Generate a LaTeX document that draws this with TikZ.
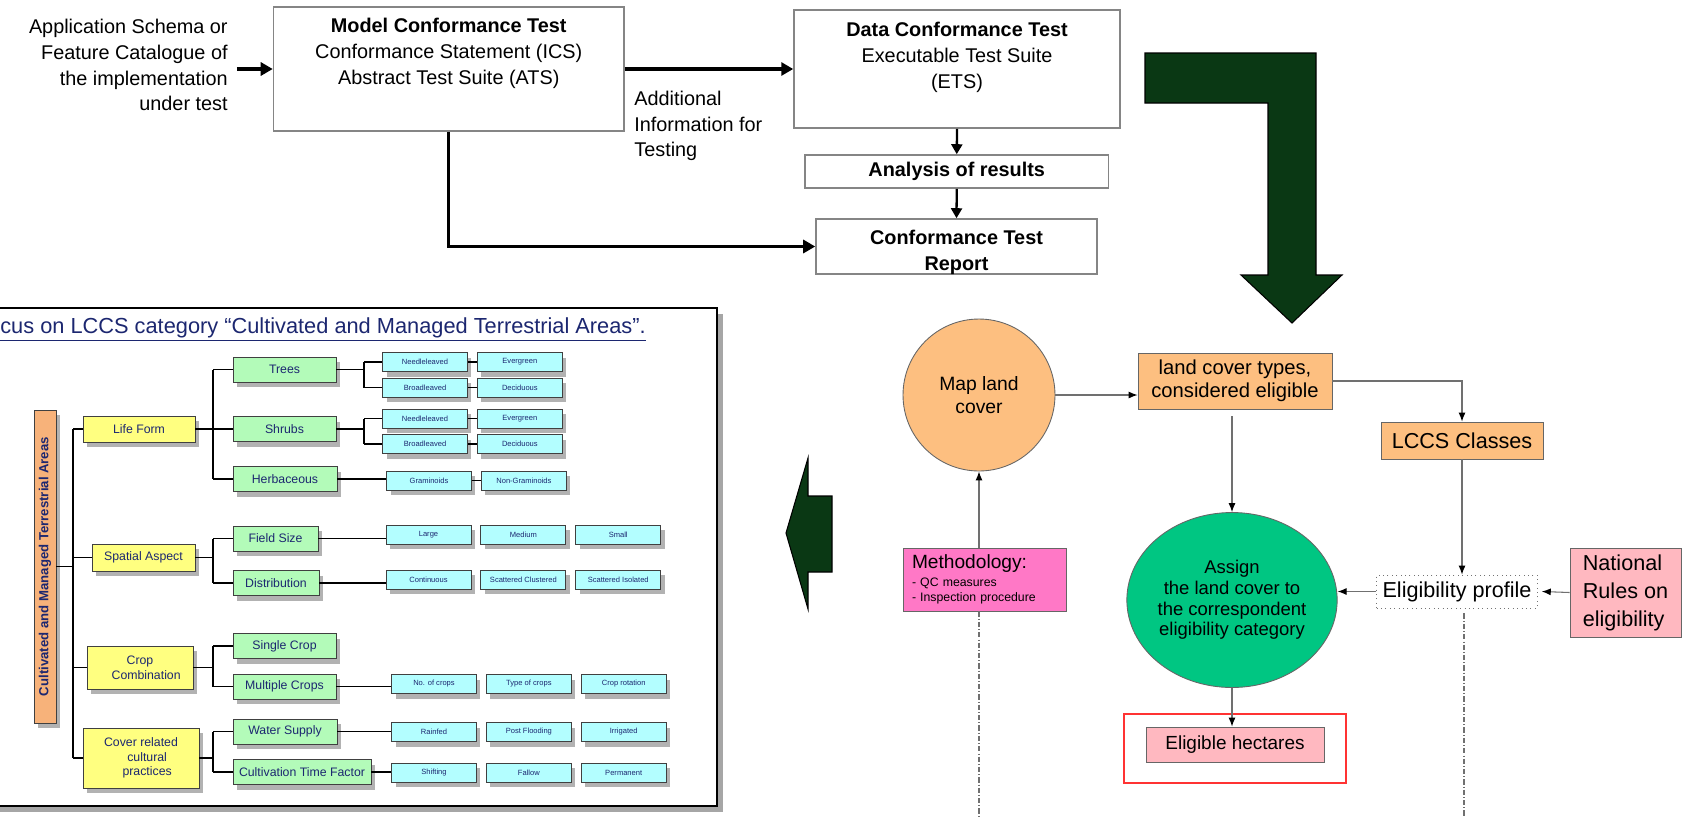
\documentclass[tikz,border=0pt]{standalone}
\usepackage{fontspec}
\setmainfont{Liberation Sans}
\usetikzlibrary{arrows.meta, positioning, shapes.geometric, shadows}
\definecolor{testframe}{HTML}{858585}
\definecolor{arrowgreen}{HTML}{0A3814}
\definecolor{lccsnavy}{HTML}{1C2770}
\definecolor{formyellow}{HTML}{FFFF80}
\definecolor{classgreen}{HTML}{B3FBB9}
\definecolor{detailcyan}{HTML}{B3FEFF}
\definecolor{categorybar}{HTML}{F7B27A}
\definecolor{mapfill}{HTML}{FDBF80}
\definecolor{assignfill}{HTML}{00C682}
\definecolor{methodfill}{HTML}{FF78C6}
\definecolor{rulefill}{HTML}{FFB8C0}
\definecolor{framered}{HTML}{FF3333}
\definecolor{linkgrey}{HTML}{707070}

\begin{document}
\begin{tikzpicture}[
    x=0.02cm, y=-0.02cm,
    node distance=0.18cm,
    testbox/.style={
        draw=testframe,
        line width=0.9pt,
        fill=white
    },
    testtext/.style={
        inner sep=0pt,
        align=center,
        font=\fontsize{11.3}{14.7}\selectfont
    },
    boldlink/.style={
        -{Triangle[length=2.4mm, width=2.6mm]},
        line width=1.8pt
    },
    resultlink/.style={
        -{Triangle[length=2mm, width=2.2mm]},
        line width=1.3pt
    },
    bendarrow/.style={
        fill=arrowgreen,
        draw=black,
        line width=0.6pt
    },
    lccsbox/.style={
        draw=black!75,
        line width=0.5pt,
        text=lccsnavy,
        inner sep=1pt,
        drop shadow={shadow xshift=0.08cm, shadow yshift=-0.1cm, fill=black!30, opacity=1}
    },
    formbox/.style={
        lccsbox,
        fill=formyellow,
        align=center,
        font=\fontsize{7}{8.4}\selectfont
    },
    classbox/.style={
        lccsbox,
        fill=classgreen,
        minimum height=0.5cm,
        font=\fontsize{7}{8.4}\selectfont
    },
    detailbox/.style={
        lccsbox,
        fill=detailcyan,
        minimum width=1.7cm,
        minimum height=0.38cm,
        font=\fontsize{4.3}{5}\selectfont
    },
    treeline/.style={
        line width=0.8pt
    },
    flowbox/.style={
        draw=black!60,
        line width=0.5pt,
        align=center
    },
    flowlink/.style={
        -{Latex[length=1.8mm, width=1.4mm, color=black]},
        draw=linkgrey,
        line width=0.6pt
    },
    tracelink/.style={
        draw=linkgrey,
        line width=0.6pt,
        dash pattern=on 3pt off 1.2pt on 0.5pt off 1.2pt
    }
]
    \useasboundingbox (0,0) rectangle (1684,816);

    % conformance testing
    \node[testtext, align=right, anchor=east] (implementation) at (228,65)
        {Application Schema or\\Feature Catalogue of\\the implementation\\under test};
    \node[testbox, minimum width=7.01cm, minimum height=2.48cm] (model) at (448.75,69) {};
    \node[testtext, below=0.23cm of model.north] (modelText)
        {\textbf{Model Conformance Test}\\Conformance Statement (ICS)\\Abstract Test Suite (ATS)};
    \node[testbox, minimum width=6.52cm, minimum height=2.36cm] (data) at (957,69) {};
    \node[testtext, below=0.25cm of data.north] (dataText)
        {\textbf{Data Conformance Test}\\Executable Test Suite\\(ETS)};
    \node[testtext, align=left, anchor=west] (additional) at (634,126)
        {Additional\\Information for\\Testing};
    \node[testbox, testtext, minimum width=6.07cm, minimum height=0.66cm] (analysis) at (956.75,171.5)
        {\textbf{Analysis of results}};
    \node[testbox, minimum width=5.62cm, minimum height=1.1cm] (report) at (956.5,246.5) {};
    \node[testtext, below=0.24cm of report.north] (reportText)
        {\textbf{Conformance Test}\\\textbf{Report}};

    \draw[boldlink] ([xshift=-0.72cm]model.west) -- (model.west);
    \draw[boldlink] (model.east) -- (data.west);
    \draw[boldlink] (model.south) |- (report.west);
    \draw[resultlink] (data.south) -- (analysis.north);
    \draw[resultlink] (analysis.south) -- (report.north);

    \draw[bendarrow] (1145,53) -- (1316,53) -- (1316,275) -- (1342,275) -- (1292,323)
        -- (1241,275) -- (1268,275) -- (1268,103) -- (1145,103) -- cycle;

    % LCCS panel
    \draw[line width=1.4pt, fill=white,
        drop shadow={shadow xshift=0.12cm, shadow yshift=-0.12cm, fill=black!35, opacity=1}]
        (-10,308) rectangle (717,806);
    \node[anchor=base west, inner sep=0pt, text=lccsnavy, font=\fontsize{12.4}{14}\selectfont] (focusTitle) at (0,333)
        {\underline{cus on LCCS category “Cultivated and Managed Terrestrial Areas”.}};

    \node[lccsbox, fill=categorybar, rotate=90, minimum width=6.26cm, minimum height=0.44cm,
        font=\fontsize{7.5}{9}\selectfont\bfseries] (category) at (45,566.5)
        {Cultivated and Managed Terrestrial Areas};

    \node[formbox, minimum width=2.24cm, minimum height=0.52cm] (lifeForm) at (139,429) {Life Form};
    \node[formbox, minimum width=2.06cm, minimum height=0.54cm] (spatial) at (143.5,557.5) {Spatial Aspect};
    \node[formbox, minimum width=2.12cm, minimum height=0.86cm] (cropMix) at (140,667.5) {Crop\\\quad Combination};
    \node[formbox, minimum width=2.32cm, minimum height=1.2cm] (cover) at (141,758) {Cover related\\\quad cultural\\\quad practices};

    \node[classbox, minimum width=2.06cm] (trees) at (284.5,369.5) {Trees};
    \node[classbox, minimum width=2.06cm] (shrubs) at (284.5,429) {Shrubs};
    \node[classbox, minimum width=2.08cm] (herbs) at (285,479) {Herbaceous};
    \node[classbox, minimum width=1.7cm] (fieldSize) at (275.5,538.5) {Field Size};
    \node[classbox, minimum width=1.72cm] (distribution) at (276,583) {Distribution};
    \node[classbox, minimum width=2.06cm] (singleCrop) at (284.5,646) {Single Crop};
    \node[classbox, minimum width=2.06cm] (multiCrops) at (284.5,686.5) {Multiple Crops};
    \node[classbox, minimum width=2.08cm] (water) at (285,731.5) {Water Supply};
    \node[classbox, minimum width=2.76cm] (timeFactor) at (302,772) {Cultivation Time Factor};

    \node[detailbox] (needleA) at (425,362) {Needleleaved};
    \node[detailbox] (broadA) at (425,387.5) {Broadleaved};
    \node[detailbox, right=of needleA] (everA) {Evergreen};
    \node[detailbox, right=of broadA] (decidA) {Deciduous};
    \node[detailbox] (needleB) at (425,418.5) {Needleleaved};
    \node[detailbox] (broadB) at (425,444) {Broadleaved};
    \node[detailbox, right=of needleB] (everB) {Evergreen};
    \node[detailbox, right=of broadB] (decidB) {Deciduous};
    \node[detailbox] (gramin) at (429,480.5) {Graminoids};
    \node[detailbox, right=of gramin] (nonGramin) {Non-Graminoids};
    \node[detailbox] (large) at (428.5,534.5) {Large};
    \node[detailbox, right=of large] (medium) {Medium};
    \node[detailbox, right=of medium] (small) {Small};
    \node[detailbox] (continuous) at (428.5,579.5) {Continuous};
    \node[detailbox, right=of continuous] (scatClust) {Scattered Clustered};
    \node[detailbox, right=of scatClust] (scatIso) {Scattered Isolated};
    \node[detailbox] (noCrops) at (434,684) {No. of crops};
    \node[detailbox, right=of noCrops] (typeCrops) {Type of crops};
    \node[detailbox, right=of typeCrops] (rotation) {Crop rotation};
    \node[detailbox] (rainfed) at (434,732) {Rainfed};
    \node[detailbox, right=of rainfed] (postFlood) {Post Flooding};
    \node[detailbox, right=of postFlood] (irrigated) {Irrigated};
    \node[detailbox] (shifting) at (434,772.5) {Shifting};
    \node[detailbox, right=of shifting] (fallow) {Fallow};
    \node[detailbox, right=of fallow] (permanent) {Permanent};

    \coordinate (trunk) at (73,0);
    \coordinate (forkTwo) at (213,0);
    \coordinate (forkThree) at (364,0);

    \draw[treeline] (category.south) -- (category.south -| trunk);
    \draw[treeline] (trunk |- lifeForm.west) -- (trunk |- cover.west);
    \foreach \f in {lifeForm, spatial, cropMix, cover}
        \draw[treeline] (trunk |- \f.west) -- (\f.west);
    \foreach \parent/\first/\last in {lifeForm/trees/herbs, spatial/fieldSize/distribution,
        cropMix/singleCrop/multiCrops, cover/water/timeFactor} {
        \draw[treeline] (\parent.east) -- (\parent.east -| forkTwo);
        \draw[treeline] (forkTwo |- \first.west) -- (forkTwo |- \last.west);
    }
    \foreach \child in {trees, shrubs, herbs, fieldSize, distribution, singleCrop, multiCrops, water, timeFactor}
        \draw[treeline] (forkTwo |- \child.west) -- (\child.west);
    \foreach \parent/\upper/\lower in {trees/needleA/broadA, shrubs/needleB/broadB} {
        \draw[treeline] (\parent.east) -- (\parent.east -| forkThree);
        \draw[treeline] (forkThree |- \upper.west) -- (forkThree |- \lower.west);
        \draw[treeline] (forkThree |- \upper.west) -- (\upper.west);
        \draw[treeline] (forkThree |- \lower.west) -- (\lower.west);
    }
    \foreach \a/\b in {needleA/everA, broadA/decidA, needleB/everB, broadB/decidB, gramin/nonGramin}
        \draw[treeline] (\a.east) -- (\b.west);
    \foreach \a/\b in {herbs/gramin, fieldSize/large, distribution/continuous,
        multiCrops/noCrops, water/rainfed, timeFactor/shifting}
        \draw[treeline] (\a.east) -- (\a.east -| \b.west);

    \draw[bendarrow] (786,533) -- (808,458) -- (808,496) -- (832,496) -- (832,572)
        -- (808,572) -- (808,609) -- cycle;

    % eligibility workflow
    \node[flowbox, circle, fill=mapfill, minimum size=3.04cm, font=\fontsize{11}{13}\selectfont] (mapCover) at (979,395)
        {Map land\\cover};
    \node[flowbox, fill=mapfill, minimum width=3.88cm, minimum height=1.12cm, font=\fontsize{11.5}{13}\selectfont] (landCover) at (1235,381)
        {land cover types,\\considered eligible};
    \node[flowbox, fill=mapfill, minimum width=3.24cm, minimum height=0.74cm, font=\fontsize{12.3}{14}\selectfont] (lccs) at (1462,440.5)
        {LCCS Classes};
    \node[flowbox, draw=black!55, dotted, fill=white, minimum width=3.04cm, minimum height=0.66cm, font=\fontsize{12.3}{14}\selectfont] (eligibility) at (1457,591.5)
        {Eligibility profile};
    \node[flowbox, fill=rulefill, align=left, minimum width=2.22cm, minimum height=1.78cm, font=\fontsize{12.3}{15.9}\selectfont] (nationalRules) at (1625.5,592.5)
        {National\\Rules on\\eligibility};
    \node[flowbox, ellipse, fill=assignfill, minimum width=3.8cm, minimum height=3.5cm, inner sep=0pt, font=\fontsize{10.5}{11.7}\selectfont] (assign) at (1232,600)
        {Assign\\the land cover to\\the correspondent\\eligibility category};
    \node[draw=framered, line width=0.8pt, minimum width=4.44cm, minimum height=1.38cm] (redFrame) at (1235,748.5) {};
    \node[flowbox, fill=rulefill, minimum width=3.56cm, minimum height=0.7cm, font=\fontsize{10.8}{12}\selectfont] (hectares) at (1235,744.5)
        {Eligible hectares};
    \node[flowbox, fill=methodfill, align=left, text width=2.9cm, inner xsep=0.18cm, minimum height=1.26cm, font=\fontsize{7}{8.5}\selectfont] (methodology) at (984.5,579.5)
        {{\fontsize{10.9}{13}\selectfont Methodology:}\\[1.5pt]- QC measures\\- Inspection procedure};

    \coordinate (methodEnd) at (979,816);
    \coordinate (profileEnd) at (1464,816);

    \draw[flowlink] (mapCover.east) -- (mapCover.east -| landCover.west);
    \draw[flowlink] (landCover.east) -| (lccs.north);
    \draw[flowlink] (lccs.south) -- (lccs.south |- eligibility.north);
    \draw[flowlink] (nationalRules.west) -- ([xshift=0.08cm]eligibility.east);
    \draw[flowlink] (eligibility.west) -- (eligibility.west -| assign.east);
    \draw[flowlink] ([yshift=-0.14cm]assign.north |- landCover.south) -- (assign.north);
    \draw[flowlink] (assign.south) -- (assign.south |- hectares.north);
    \draw[flowlink] (mapCover.south |- methodology.north) -- (mapCover.south);
    \draw[tracelink] (mapCover.south |- methodology.south) -- (methodEnd);
    \draw[tracelink] ([yshift=-0.1cm]profileEnd |- eligibility.south) -- (profileEnd);
\end{tikzpicture}
\end{document}
